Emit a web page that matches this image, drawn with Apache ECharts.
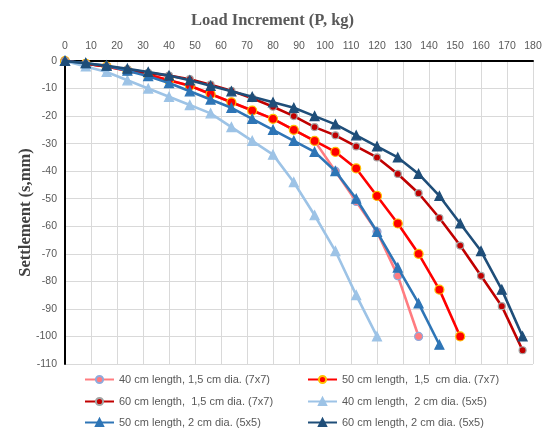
<!DOCTYPE html>
<html>
<head>
<meta charset="utf-8">
<script src="https://cdn.jsdelivr.net/npm/echarts@6/dist/echarts.min.js"></script>
<style>html,body{margin:0;padding:0;background:#fff}#c{width:545px;height:431px}</style>
</head>
<body>
<div id="c"></div>
<script>
// Load increments (kg)
var loads = [0, 8, 16, 24, 32, 40, 48, 56, 64, 72, 80, 88, 96, 104, 112, 120, 128, 136, 144, 152, 160, 168, 176];
var xTicks = [0, 10, 20, 30, 40, 50, 60, 70, 80, 90, 100, 110, 120, 130, 140, 150, 160, 170, 180];
var yTicks = [0, -10, -20, -30, -40, -50, -60, -70, -80, -90, -100, -110];

var seriesNames = [
  "40 cm length, 1,5 cm dia. (7x7)",
  "50 cm length,  1,5  cm dia. (7x7)",
  "60 cm length,  1,5 cm dia. (7x7)",
  "40 cm length,  2 cm dia. (5x5)",
  "50 cm length, 2 cm dia. (5x5)",
  "60 cm length, 2 cm dia. (5x5)"
];
// Settlement values (mm)
var s40_15 = [0, -1, -2, -3.5, -5, -7, -9, -12, -15, -18, -21, -25, -29, -40, -51, -62, -78, -100];
var s50_15 = [0, -1, -2, -3.5, -5, -7, -9, -12, -15, -18, -21, -25, -29, -33, -39, -49, -59, -70, -83, -100];
var s60_15 = [0, -1, -2, -3, -4.3, -5.3, -6.6, -8.6, -10.8, -13.5, -16.6, -20, -24, -27, -31, -35, -41, -48, -57, -67, -78, -89, -105];
var s40_2  = [0, -2, -4, -7, -10, -13, -16, -19, -24, -29, -34, -44, -56, -69, -85, -100];
var s50_2  = [0, -0.8, -1.7, -3.5, -5.5, -8, -11, -14, -17, -21, -25, -29, -33, -40, -50, -62, -75, -88, -103];
var s60_2  = [0, -0.8, -1.7, -2.8, -4, -5.3, -7, -9, -11, -13, -15, -17, -20, -23, -27, -31, -35, -41, -49, -59, -69, -83, -100];

var allValues = [s40_15, s50_15, s60_15, s40_2, s50_2, s60_2];
var lineColors = ["#ff7c80", "#ff0000", "#c00000", "#9dc3e6", "#2e75b6", "#1f4e79"];
var symbols = ["circle", "circle", "circle", "triangle", "triangle", "triangle"];
var symbolSizes = [8, 9, 7, 9, 9, 9];
var borderColors = ["#8faadc", "#ffc000", "#a5a5a5", "#9dc3e6", "#2e75b6", "#1f4e79"];

function pairs(vals) {
  var out = [];
  for (var i = 0; i < vals.length; i++) out.push([loads[i], vals[i]]);
  return out;
}

var series = seriesNames.map(function (name, i) {
  return {
    name: name,
    type: "line",
    data: pairs(allValues[i]),
    symbol: symbols[i],
    symbolSize: symbolSizes[i],
    showAllSymbol: true,
    lineStyle: { color: lineColors[i], width: 2.6 },
    itemStyle: { color: lineColors[i], borderColor: borderColors[i], borderWidth: 1.2 },
    emphasis: { disabled: true },
    animation: false,
    z: 2 + i
  };
});

var textColor = "#595959";
var legendText = { color: textColor, fontFamily: "Liberation Sans", fontSize: 11 };

// legend layout: 2 columns x 3 rows
var legendCols = [84, 307];
var legendRows = [374, 396, 417];
var legends = seriesNames.map(function (name, i) {
  return {
    data: [name],
    left: legendCols[i % 2],
    top: legendRows[Math.floor(i / 2)],
    itemWidth: 29, itemHeight: 9,
    padding: 0,
    textStyle: legendText
  };
});

var chart = echarts.init(document.getElementById("c"), null, { renderer: "canvas" });
chart.setOption({
  animation: false,
  backgroundColor: "#fff",
  title: {
    text: "Load Increment (P, kg)",
    left: "center",
    top: 7,
    textStyle: { fontFamily: "Liberation Serif", fontWeight: "bold", fontSize: 16.5, color: textColor }
  },
  grid: { left: 65, right: 12, top: 61, bottom: 67, containLabel: false },
  legend: legends,
  xAxis: {
    type: "value",
    position: "top",
    min: xTicks[0], max: xTicks[xTicks.length - 1], interval: 10,
    axisLine: { show: true, onZero: false, lineStyle: { color: "#000", width: 2 } },
    axisTick: { show: false },
    axisLabel: { color: textColor, fontFamily: "Liberation Sans", fontSize: 10.5, margin: 9 },
    splitLine: { show: true, lineStyle: { color: "#d9d9d9", width: 1 } }
  },
  yAxis: {
    type: "value",
    min: yTicks[yTicks.length - 1], max: yTicks[0], interval: 10,
    name: "Settlement (s,mm)",
    nameLocation: "middle",
    nameRotate: 90,
    nameGap: 31,
    nameMoveOverlap: false,
    nameTextStyle: { fontFamily: "Liberation Serif", fontWeight: "bold", fontSize: 16.5, color: "#404040" },
    axisLine: { show: true, onZero: false, lineStyle: { color: "#000", width: 2 } },
    axisTick: { show: false },
    axisLabel: { color: textColor, fontFamily: "Liberation Sans", fontSize: 10.5, margin: 8 },
    splitLine: { show: true, lineStyle: { color: "#d9d9d9", width: 1 } }
  },
  series: series
});
</script>
</body>
</html>
